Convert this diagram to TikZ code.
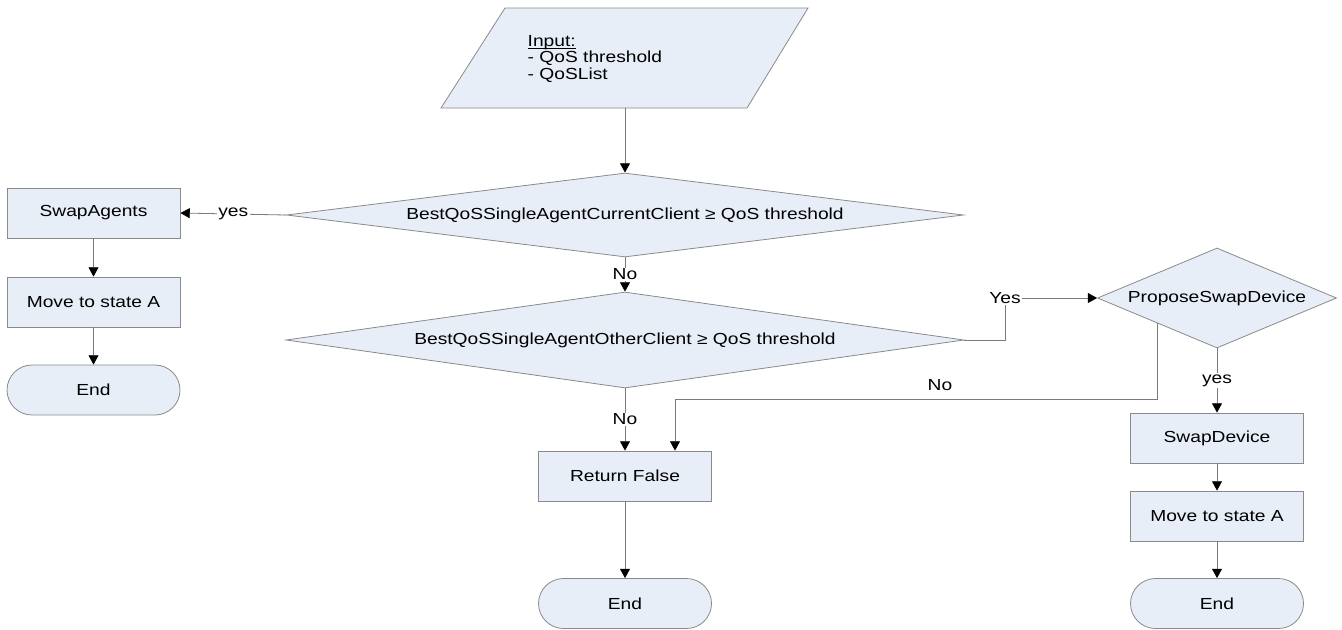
\documentclass[tikz,border=0pt]{standalone}
\usepackage{fontspec}
\setmainfont[FakeStretch=1.2]{Liberation Sans}
\usetikzlibrary{shapes.geometric,arrows.meta}
\definecolor{boxfill}{HTML}{E8EEF8}
\definecolor{boxline}{HTML}{8A8A8A}
\definecolor{arrline}{HTML}{7A7A7A}
\newcommand\inul[1]{\setbox0\hbox{#1}\rlap{\rule[-1.6pt]{\wd0}{0.5pt}}\box0}

\begin{document}
\begin{tikzpicture}[x=0.75pt,y=0.75pt,yscale=-1,xscale=1,
  every node/.style={font=\fontsize{12}{12.5}\selectfont},
  box/.style={draw=boxline,fill=boxfill,line width=0.6pt,minimum width=129.75pt,minimum height=37.5pt,inner sep=0pt},
  term/.style={box,rounded corners=18.75pt},
  cond/.style={draw=boxline,fill=boxfill,line width=0.6pt,diamond,aspect=8,inner sep=0pt},
  conn/.style={draw=arrline,line width=0.6pt,-{Triangle[color=black,length=7pt,width=7.5pt]}},
  lbl/.style={fill=white,inner sep=1pt}]
\useasboundingbox (0,0) rectangle (1342,629);
              % input
              \draw  [draw=boxline,fill=boxfill,line width=0.6pt]  (505,8) -- (808,8) -- (747,108) -- (441,108) -- cycle ;
              \node[anchor=west,align=left] (inp) at (523,59) {\inul{Input:}\\- QoS threshold\\- QoSList};
              \coordinate (inpout) at (625,108);
              % decisions
              \node[cond,minimum width=507.75pt,minimum height=63pt] (d1) at (625,215) {BestQoSSingleAgentCurrentClient ≥ QoS threshold};
              \node[cond,minimum width=508.5pt,minimum height=72pt] (d2) at (625,340) {BestQoSSingleAgentOtherClient ≥ QoS threshold};
              \node[cond,aspect=2.4,minimum width=179.25pt,minimum height=75pt] (p3) at (1217,298) {ProposeSwapDevice};
              % left branch
              \node[box] (swapag) at (93.5,213) {SwapAgents};
              \node[box] (move1) at (93.5,302) {Move to state A};
              \node[term] (end1) at (93.5,390) {End};
              % middle
              \node[box] (ret) at (625,476) {Return False};
              \node[term] (end2) at (625,603.5) {End};
              % right branch
              \node[box] (swapdev) at (1217,438) {SwapDevice};
              \node[box] (move2) at (1217,516) {Move to state A};
              \node[term] (end3) at (1217,603.5) {End};
              % connectors
              \draw[conn] (inpout) -- (d1.north);
              \draw[conn] (d1.west) -- (swapag.east) node[lbl,midway] {yes};
              \draw[conn] (swapag) -- (move1);
              \draw[conn] (move1) -- (end1);
              \draw[conn] (d1.south) -- (d2.north) node[lbl,midway] {No};
              \draw[conn] (d2.south) -- (ret.north) node[lbl,midway] {No};
              \draw[conn] (ret) -- (end2);
              \coordinate (yesbend) at (1005,298);
              \draw[conn] (d2.east) -| (yesbend) -- (p3.west);
              \node[lbl] (yeslbl) at (yesbend) {Yes};
              \coordinate (nobend) at (675,399);
              \draw[conn] (p3.south west) |- (nobend) -- (nobend |- ret.north);
              \node (nolbl) at (940,385) {No};
              \draw[conn] (p3.south) -- (swapdev.north) node[lbl,midway] {yes};
              \draw[conn] (swapdev) -- (move2);
              \draw[conn] (move2) -- (end3);
            \end{tikzpicture}
\end{document}
